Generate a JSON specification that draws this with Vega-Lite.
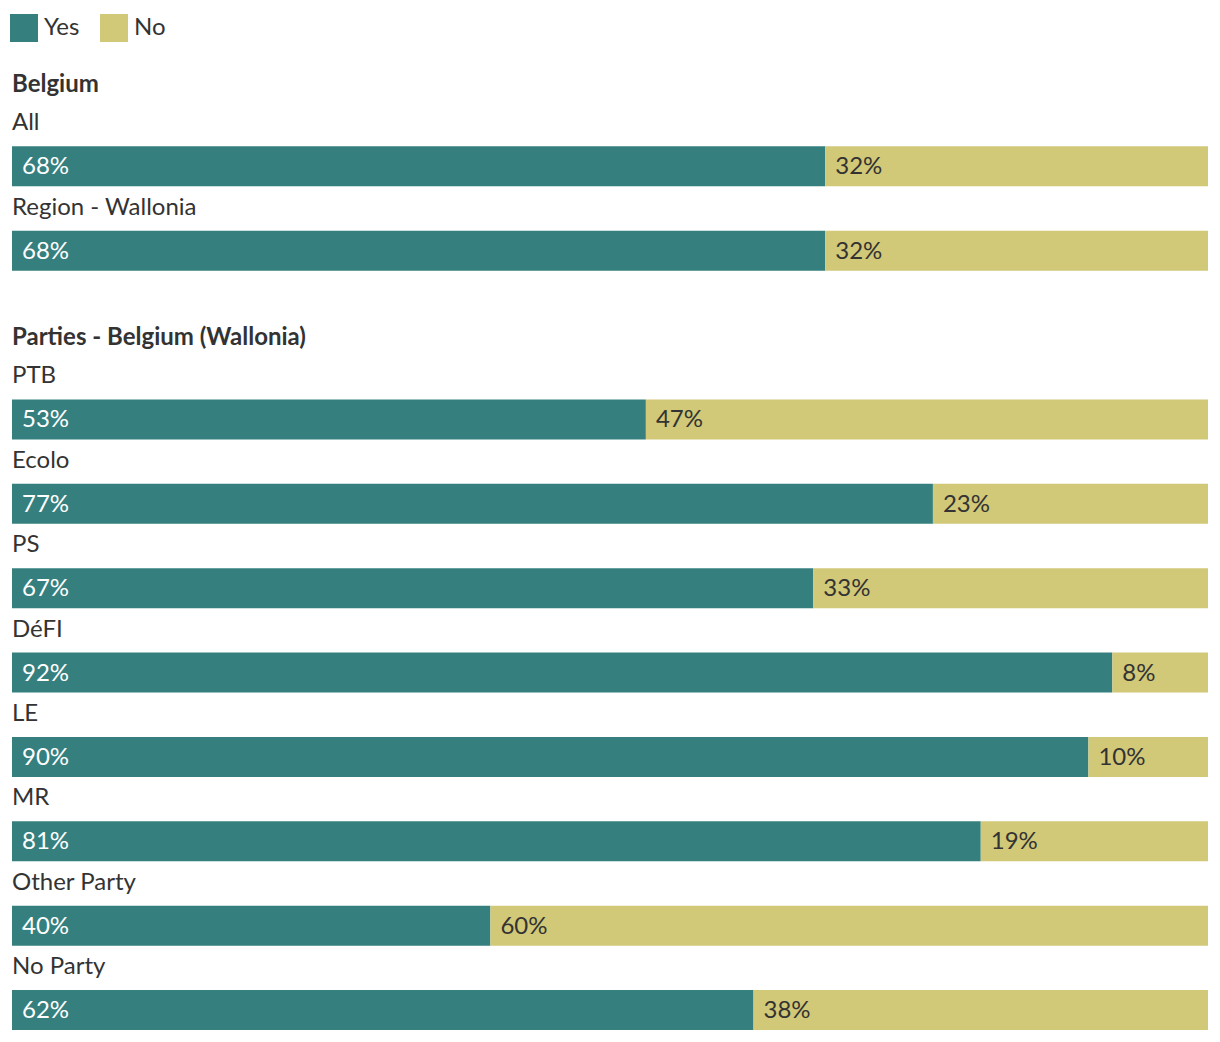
{
  "$schema": "https://vega.github.io/schema/vega-lite/v6.json",
  "width": 1196,
  "height": 992,
  "autosize": {"type": "none"},
  "padding": {"left": 12, "top": 50, "right": 12, "bottom": 0},
  "background": "#ffffff",
  "config": {"view": {"stroke": null}, "font": "Lato", "text": {"font": "Lato"}},
  "datasets": {
    "bars": [
      {"row": "All", "answer": "Yes", "value": 0.68},
      {"row": "All", "answer": "No", "value": 0.32},
      {"row": "Region - Wallonia", "answer": "Yes", "value": 0.68},
      {"row": "Region - Wallonia", "answer": "No", "value": 0.32},
      {"row": "PTB", "answer": "Yes", "value": 0.53},
      {"row": "PTB", "answer": "No", "value": 0.47},
      {"row": "Ecolo", "answer": "Yes", "value": 0.77},
      {"row": "Ecolo", "answer": "No", "value": 0.23},
      {"row": "PS", "answer": "Yes", "value": 0.67},
      {"row": "PS", "answer": "No", "value": 0.33},
      {"row": "DéFI", "answer": "Yes", "value": 0.92},
      {"row": "DéFI", "answer": "No", "value": 0.08},
      {"row": "LE", "answer": "Yes", "value": 0.90},
      {"row": "LE", "answer": "No", "value": 0.10},
      {"row": "MR", "answer": "Yes", "value": 0.81},
      {"row": "MR", "answer": "No", "value": 0.19},
      {"row": "Other Party", "answer": "Yes", "value": 0.40},
      {"row": "Other Party", "answer": "No", "value": 0.60},
      {"row": "No Party", "answer": "Yes", "value": 0.62},
      {"row": "No Party", "answer": "No", "value": 0.38}
    ],
    "headers": [
      {"row": "Belgium"},
      {"row": "Parties - Belgium (Wallonia)"}
    ]
  },
  "layer": [
    {
      "data": {"name": "bars"},
      "transform": [
        {"stack": "value", "groupby": ["row"], "sort": [{"field": "answer", "order": "descending"}], "as": ["v0", "v1"]}
      ],
      "mark": {"type": "bar"},
      "encoding": {
        "y": {"field": "row", "type": "nominal", "axis": null,
          "scale": {"domain": ["Belgium", "All", "Region - Wallonia", "Parties - Belgium (Wallonia)", "PTB", "Ecolo", "PS", "DéFI", "LE", "MR", "Other Party", "No Party"], "paddingInner": 0.526, "paddingOuter": 0.142}},
        "x": {"field": "v0", "type": "quantitative", "axis": null, "scale": {"domain": [0, 1], "nice": false}},
        "x2": {"field": "v1"},
        "color": {"field": "answer", "type": "nominal",
          "scale": {"domain": ["Yes", "No"], "range": ["#35807f", "#d1c878"]},
          "legend": {"orient": "none", "legendX": -2, "legendY": -36, "direction": "horizontal", "title": null,
            "symbolType": "square", "symbolSize": 784, "symbolStrokeWidth": 0, "symbolOpacity": 1,
            "labelFontSize": 24, "labelColor": "#333333", "labelFont": "Lato", "labelOffset": 6, "columnPadding": 20, "padding": 0}}
      }
    },
    {
      "data": {"name": "bars"},
      "transform": [
        {"stack": "value", "groupby": ["row"], "sort": [{"field": "answer", "order": "descending"}], "as": ["v0", "v1"]}
      ],
      "mark": {"type": "text", "align": "left", "baseline": "middle", "dx": 10, "dy": 1, "fontSize": 24},
      "encoding": {
        "y": {"field": "row", "type": "nominal"},
        "x": {"field": "v0", "type": "quantitative"},
        "text": {"field": "value", "type": "quantitative", "format": ".0%"},
        "color": {"condition": {"test": "datum.answer === 'Yes'", "value": "#ffffff"}, "value": "#333333"}
      }
    },
    {
      "data": {"name": "bars"},
      "transform": [{"filter": "datum.answer === 'Yes'"}],
      "mark": {"type": "text", "align": "left", "baseline": "middle", "dy": -43, "fontSize": 24, "color": "#333333"},
      "encoding": {
        "y": {"field": "row", "type": "nominal"},
        "x": {"value": 0},
        "text": {"field": "row", "type": "nominal"}
      }
    },
    {
      "data": {"name": "headers"},
      "mark": {"type": "text", "align": "left", "baseline": "middle", "dy": 3, "fontSize": 24, "fontWeight": "bold", "color": "#333333"},
      "encoding": {
        "y": {"field": "row", "type": "nominal"},
        "x": {"value": 0},
        "text": {"field": "row", "type": "nominal"}
      }
    }
  ]
}
